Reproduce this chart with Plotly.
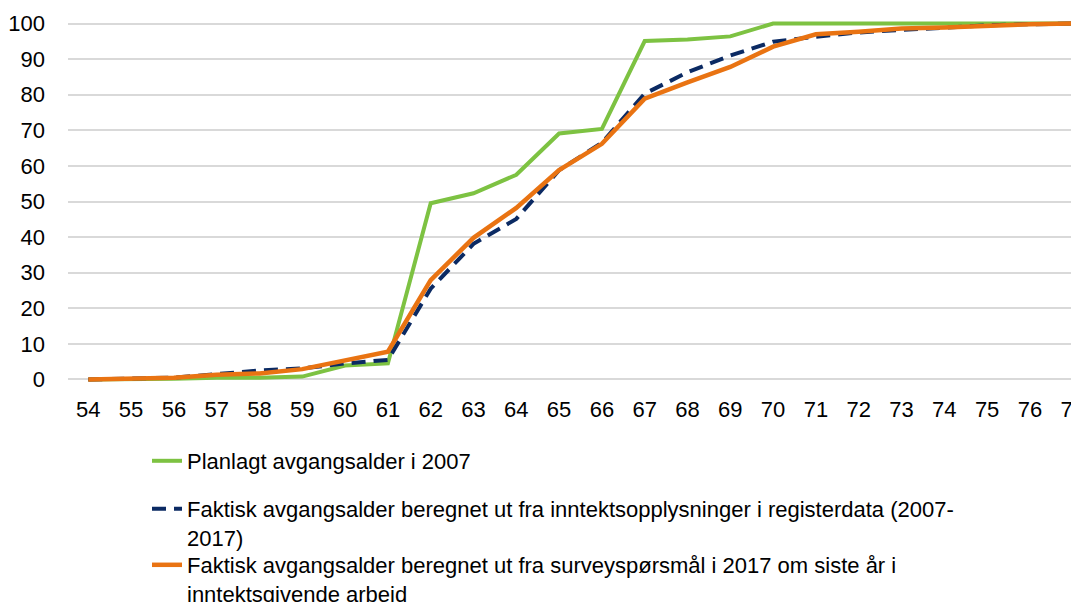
import plotly.graph_objects as go

ages = list(range(54, 78))

planned_2007 = [0, 0, 0.2, 0.5, 0.5, 0.8, 3.9, 4.5, 49.5, 52.3, 57.5, 69.1, 70.4, 95.1,
                95.5, 96.4, 100, 100, 100, 100, 100, 100, 100, 100]
actual_register = [0, 0.2, 0.5, 1.5, 2.5, 3.1, 4.5, 5.5, 25.5, 38.1, 45.1, 58.8, 66.5, 80.3,
                   86.3, 91.0, 94.9, 96.3, 97.5, 98.2, 98.8, 99.5, 99.8, 100]
actual_survey = [0, 0.2, 0.5, 1.3, 1.7, 2.9, 5.5, 7.8, 27.9, 39.8, 48.2, 58.8, 66.2, 78.9,
                 83.5, 87.8, 93.5, 97.0, 97.7, 98.6, 98.9, 99.5, 99.8, 100]

names = [
    "Planlagt avgangsalder i 2007",
    "Faktisk avgangsalder beregnet ut fra inntektsopplysninger i registerdata (2007-<br>2017)",
    "Faktisk avgangsalder beregnet ut fra surveyspørsmål i 2017 om siste år i<br>inntektsgivende arbeid",
]

font = "Liberation Sans, Arial, sans-serif"

fig = go.Figure()
fig.add_trace(go.Scatter(x=ages, y=planned_2007, mode="lines", name=names[0],
                         line=dict(color="#7DC242", width=4), legend="legend"))
fig.add_trace(go.Scatter(x=ages, y=actual_register, mode="lines", name=names[1],
                         line=dict(color="#0B2A63", width=4, dash="14px,8px"), legend="legend2"))
fig.add_trace(go.Scatter(x=ages, y=actual_survey, mode="lines", name=names[2],
                         line=dict(color="#E97312", width=4.5), legend="legend3"))

# plot area spans figure pixels y 12..375 and x 60..1071 (page adds an 8px body margin)
def py(pixel):
    return (375 - pixel) / 363

legend_style = dict(x=(139 - 60) / 1011, xanchor="left", yanchor="top",
                    bgcolor="rgba(0,0,0,0)", font=dict(family=font, size=22, color="#000000"),
                    valign="top")

fig.update_layout(
    width=1079,
    height=602,
    margin=dict(l=60, r=8, t=12, b=227, autoexpand=False),
    plot_bgcolor="white",
    paper_bgcolor="white",
    showlegend=True,
    font=dict(family=font, size=22, color="#000000"),
    legend=dict(y=py(432), **legend_style),
    legend2=dict(y=py(480), **legend_style),
    legend3=dict(y=py(536), **legend_style),
    xaxis=dict(range=[53.526, 77.147], tickvals=ages, showgrid=False, zeroline=False,
               showline=False, ticks="", ticklabelstandoff=11,
               tickfont=dict(family=font, size=22)),
    yaxis=dict(range=[-1, 101], tickvals=list(range(0, 101, 10)), showgrid=True,
               gridcolor="#D9D9D9", gridwidth=1.5, zeroline=False, showline=False,
               ticks="", ticklabelstandoff=22, tickfont=dict(family=font, size=22)),
)

fig.write_html("out.html")
